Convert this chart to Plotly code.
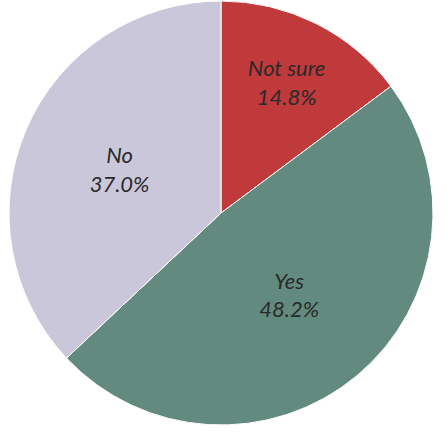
import plotly.graph_objects as go

labels = ["Not sure", "Yes", "No"]
values = [14.8, 48.2, 37.0]
colors = ["#c0393b", "#638a7e", "#cbc7db"]

fig = go.Figure(go.Pie(
    labels=labels,
    values=values,
    sort=False,
    direction="clockwise",
    rotation=0,
    marker=dict(colors=colors, line=dict(color="white", width=1)),
    texttemplate="<i>%{label}</i><br><i>%{percent:.1%}</i>",
    textposition="inside",
    insidetextorientation="horizontal",
    textfont=dict(family="Lato", size=22, color="#2a2a2a"),
    hoverinfo="none",
    showlegend=False,
    domain=dict(x=[9/447, 433/447], y=[1-425/447, 1-1/447]),
))
fig.update_layout(
    width=447, height=447,
    margin=dict(l=0, r=0, t=0, b=0),
    paper_bgcolor="white",
    plot_bgcolor="white",
    uniformtext=dict(minsize=22, mode="show"),
)
fig.write_html("out.html", config={"displayModeBar": False},
               post_script="document.body.style.margin='0';")
